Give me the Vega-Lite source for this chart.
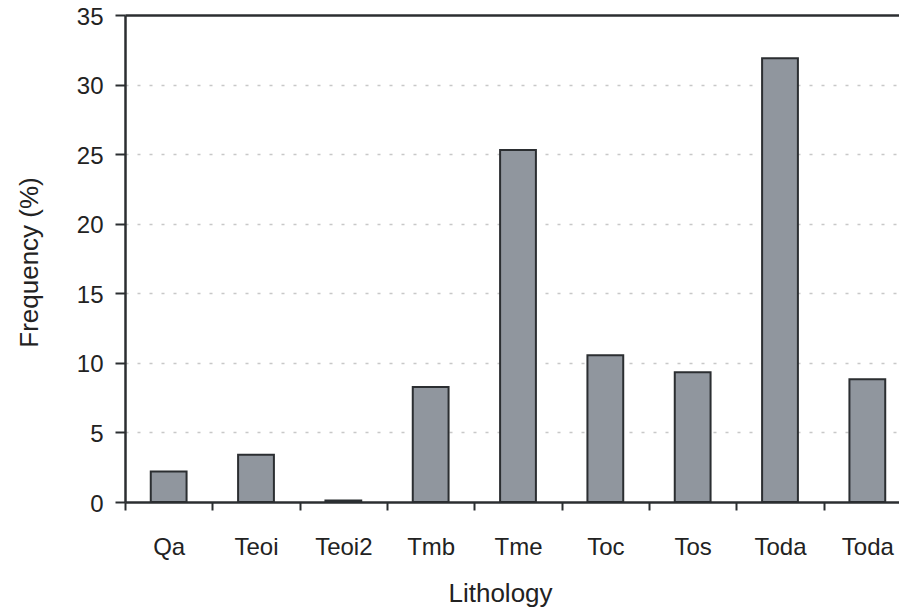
{
  "$schema": "https://vega.github.io/schema/vega-lite/v6.json",
  "autosize": {"type": "none"},
  "padding": {"left": 125, "top": 15, "right": 0, "bottom": 109},
  "width": 774,
  "height": 487,
  "background": "white",
  "config": {
    "view": {"stroke": null},
    "font": "Liberation Sans",
    "axis": {
      "labelFont": "Liberation Sans",
      "titleFont": "Liberation Sans",
      "labelColor": "#222222",
      "titleColor": "#222222",
      "domainColor": "#2b2e31",
      "domainWidth": 2.5,
      "tickColor": "#2b2e31",
      "tickWidth": 2,
      "labelFontSize": 24,
      "titleFontSize": 26,
      "titleFontWeight": "normal"
    }
  },
  "data": {
    "values": [
      {"lithology": "Qa", "frequency": 2.2},
      {"lithology": "Teoi", "frequency": 3.4},
      {"lithology": "Teoi2", "frequency": 0.1},
      {"lithology": "Tmb", "frequency": 8.27},
      {"lithology": "Tme", "frequency": 25.3},
      {"lithology": "Toc", "frequency": 10.55},
      {"lithology": "Tos", "frequency": 9.32},
      {"lithology": "Toda", "frequency": 31.9},
      {"lithology": "Toda (2)", "frequency": 8.82}
    ]
  },
  "mark": {
    "type": "bar",
    "width": {"band": 0.41},
    "fill": "#90969e",
    "stroke": "#2b2e31",
    "strokeWidth": 2
  },
  "encoding": {
    "x": {
      "field": "lithology",
      "type": "nominal",
      "sort": null,
      "scale": {"paddingInner": 0, "paddingOuter": 0, "range": [0, 786]},
      "axis": {
        "title": "Lithology",
        "labelExpr": "datum.value == 'Toda (2)' ? 'Toda' : datum.value",
        "labelAngle": 0,
        "tickBand": "extent",
        "tickSize": 8,
        "labelBaseline": "alphabetic",
        "labelPadding": 44,
        "grid": false,
        "titleX": 375,
        "titleY": 99,
        "titleAlign": "center",
        "titleBaseline": "alphabetic"
      }
    },
    "y": {
      "field": "frequency",
      "type": "quantitative",
      "scale": {"domain": [0, 35], "nice": false},
      "axis": {
        "title": "Frequency (%)",
        "values": [0, 5, 10, 15, 20, 25, 30, 35],
        "tickSize": 10,
        "labelPadding": 12,
        "labelOffset": 2,
        "grid": true,
        "gridColor": {"condition": [{"test": "datum.value == 0", "value": "transparent"}, {"test": "datum.value == 35", "value": "#2b2e31"}], "value": "#c8c8c8"},
        "gridDash": {"condition": {"test": "datum.value == 35", "value": []}, "value": [3, 9]},
        "gridWidth": {"condition": {"test": "datum.value == 35", "value": 2.5}, "value": 1.5},
        "titleX": -96,
        "titleY": 247,
        "titleAlign": "center",
        "titleBaseline": "middle",
        "titleAngle": -90
      }
    }
  }
}
